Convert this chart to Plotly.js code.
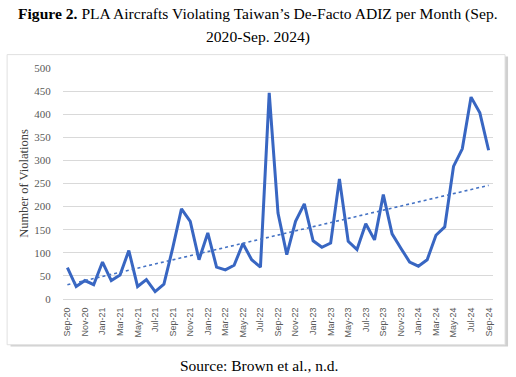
<!DOCTYPE html>
<html>
<head>
<meta charset="utf-8">
<script src="https://cdn.plot.ly/plotly-3.0.1.min.js"></script>
<style>html,body{margin:0;padding:0;background:#fff;}#chart{width:516px;height:377px;}</style>
</head>
<body>
<div id="chart"></div>
<script>
const months = ["Sep-20","Oct-20","Nov-20","Dec-20","Jan-21","Feb-21","Mar-21","Apr-21","May-21","Jun-21","Jul-21","Aug-21",
"Sep-21","Oct-21","Nov-21","Dec-21","Jan-22","Feb-22","Mar-22","Apr-22","May-22","Jun-22","Jul-22","Aug-22",
"Sep-22","Oct-22","Nov-22","Dec-22","Jan-23","Feb-23","Mar-23","Apr-23","May-23","Jun-23","Jul-23","Aug-23",
"Sep-23","Oct-23","Nov-23","Dec-23","Jan-24","Feb-24","Mar-24","Apr-24","May-24","Jun-24","Jul-24","Aug-24","Sep-24"];
const violations = [68,27,40,31,80,40,52,105,27,42,16,32,
110,195,168,85,143,69,63,73,120,85,69,446,
186,96,168,206,126,112,121,260,125,107,163,128,
226,141,110,80,71,85,138,156,287,325,437,403,322];
const tickMonths = ["Sep-20","Nov-20","Jan-21","Mar-21","May-21","Jul-21","Sep-21","Nov-21","Jan-22","Mar-22","May-22","Jul-22",
"Sep-22","Nov-22","Jan-23","Mar-23","May-23","Jul-23","Sep-23","Nov-23","Jan-24","Mar-24","May-24","Jul-24","Sep-24"];
const trendMonths = ["Sep-20","Sep-24"];
const trendValues = [31, 246];
const yTicks = [0,50,100,150,200,250,300,350,400,450,500];

const blue = "#3866c2";
const traces = [
  {x: months, y: violations, type: "scatter", mode: "lines",
   line: {color: blue, width: 3}, hoverinfo: "skip"},
  {x: trendMonths, y: trendValues, type: "scatter", mode: "lines",
   line: {color: "#4472c4", width: 1.6, dash: "dot"}, hoverinfo: "skip"}
];
const layout = {
  width: 516, height: 377,
  margin: {l: 63, r: 23, t: 68, b: 78},
  paper_bgcolor: "#ffffff", plot_bgcolor: "#ffffff",
  showlegend: false,
  xaxis: {
    type: "category", categoryarray: months, range: [-0.5, 48.5],
    tickmode: "array", tickvals: tickMonths, ticktext: tickMonths,
    tickangle: -90, showgrid: false, zeroline: false,
    showline: true, linecolor: "#d9d9d9", linewidth: 1,
    ticks: "outside", ticklen: 4, tickcolor: "rgba(0,0,0,0)",
    tickfont: {family: "Liberation Sans, Arial, sans-serif", size: 9, color: "#595959"}
  },
  yaxis: {
    range: [0, 500], tickmode: "array", tickvals: yTicks,
    showgrid: true, gridcolor: "#d9d9d9", gridwidth: 1, zeroline: false,
    showline: false, ticks: "outside", ticklen: 9, tickcolor: "rgba(0,0,0,0)",
    tickfont: {family: "Liberation Serif, Times New Roman, serif", size: 11, color: "#595959"},
    title: {text: "Number of Violations", standoff: 2,
      font: {family: "Liberation Serif, Times New Roman, serif", size: 12.5, color: "#404040"}}
  },
  shapes: [
    {type: "rect", xref: "paper", yref: "paper", x0: -0.122, x1: 1.035, y0: -0.206, y1: 1.050,
     line: {width: 0}, fillcolor: "#d0d0d0", layer: "below"},
    {type: "rect", xref: "paper", yref: "paper", x0: -0.130, x1: 1.028, y0: -0.198, y1: 1.058,
     line: {color: "#e0e0e0", width: 1}, fillcolor: "#ffffff", layer: "below"}
  ],
  annotations: [
    {xref: "paper", yref: "paper", x: (258-63)/430, y: (299.3-14)/231, xanchor: "center", yanchor: "middle",
     showarrow: false, text: "<b>Figure 2.</b> PLA Aircrafts Violating Taiwan’s De-Facto ADIZ per Month (Sep.",
     font: {family: "Liberation Serif, Times New Roman, serif", size: 15.6, color: "#000"}},
    {xref: "paper", yref: "paper", x: (258-63)/430, y: (299.3-37)/231, xanchor: "center", yanchor: "middle",
     showarrow: false, text: "2020-Sep. 2024)",
     font: {family: "Liberation Serif, Times New Roman, serif", size: 15.6, color: "#000"}},
    {xref: "paper", yref: "paper", x: (259-63)/430, y: (299.3-366)/231, xanchor: "center", yanchor: "middle",
     showarrow: false, text: "Source: Brown et al., n.d.",
     font: {family: "Liberation Serif, Times New Roman, serif", size: 15.5, color: "#000"}}
  ]
};
Plotly.newPlot("chart", traces, layout, {displayModeBar: false, staticPlot: true});
</script>
</body>
</html>
